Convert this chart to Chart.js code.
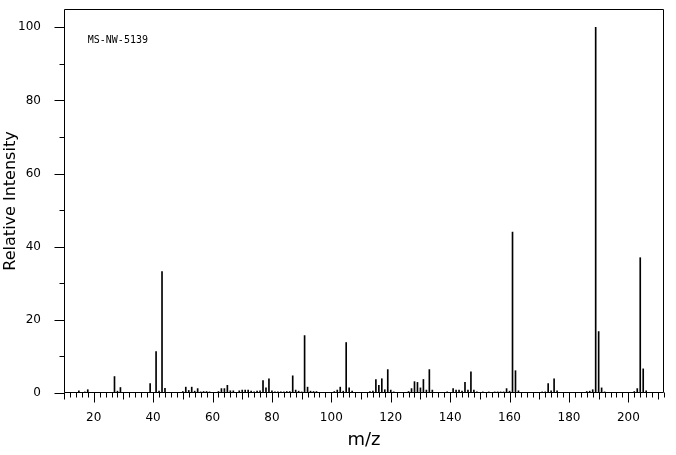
<!DOCTYPE html>
<html>
<head>
<meta charset="utf-8">
<script src="https://cdn.jsdelivr.net/npm/chart.js@4.4.1/dist/chart.umd.min.js"></script>
<style>
  html, body { margin: 0; padding: 0; background: #ffffff; }
  #wrap { width: 676px; height: 455px; }
</style>
</head>
<body>
<div id="wrap"><canvas id="c" width="676" height="455"></canvas></div>
<script>
// m/z values (categories along the x axis)
const mzValues = [15,17,18,27,28,29,39,41,42,43,44,50,51,52,53,54,55,56,57,58,59,62,63,64,65,66,67,69,70,71,72,73,74,75,76,77,78,79,80,81,82,83,84,85,86,87,88,89,90,91,92,93,94,95,101,102,103,104,105,106,107,113,114,115,116,117,118,119,120,121,126,127,128,129,130,131,132,133,134,139,141,142,143,144,145,146,147,148,149,151,153,155,156,157,158,159,160,161,162,163,171,172,173,174,175,176,186,187,188,189,190,191,192,202,203,204,205,206];
// relative intensities (series values)
const intensities = [0.6,0.3,0.9,4.5,0.5,1.5,2.6,11.3,0.5,33.2,1.3,0.4,1.6,0.7,1.6,0.5,1.2,0.3,0.4,0.4,0.3,0.4,1.2,1.2,2.1,0.6,0.6,0.6,0.8,0.8,0.8,0.5,0.3,0.5,0.6,3.4,1.4,3.9,0.6,0.3,0.3,0.3,0.3,0.4,0.4,4.7,0.8,0.5,0.3,15.7,1.6,0.5,0.4,0.4,0.4,0.8,1.6,0.5,13.8,1.4,0.5,0.4,0.5,3.7,2.1,3.9,0.9,6.4,0.8,0.3,0.4,1.2,3.1,2.9,1.4,3.7,0.8,6.4,0.8,0.3,1.2,0.8,0.8,0.5,2.9,0.8,5.8,0.8,0.3,0.3,0.3,0.3,0.3,0.3,0.3,1.2,0.5,44.0,6.1,0.6,0.3,0.3,2.6,0.6,3.9,0.6,0.4,0.5,0.9,100,16.8,1.4,0.3,0.4,1.2,37.0,6.6,0.6];
// tick labels
const xTickLabels = [20,40,60,80,100,120,140,160,180,200];
const yTickLabels = [0,20,40,60,80,100];
const sampleLabel = 'MS-NW-5139';
const xTitle = 'm/z';
const yTitle = 'Relative Intensity';

const X_MIN = 10, X_MAX = 212, Y_MIN = 0, Y_MAX = 105;

const points = mzValues.map((m, i) => ({ x: m, y: intensities[i] }));

const decorPlugin = {
  id: 'decor',
  afterDraw(chart) {
    const ctx = chart.ctx;
    const a = chart.chartArea;
    const xs = chart.scales.x, ys = chart.scales.y;
    ctx.save();
    ctx.strokeStyle = '#000';
    ctx.lineWidth = 1;
    // frame
    const L = Math.round(a.left) + 0.5, R = Math.round(a.right) - 0.5;
    const T = Math.round(a.top) + 0.5, B = Math.round(a.bottom) - 0.5;
    ctx.beginPath();
    ctx.rect(L, T, R - L, B - T);
    ctx.stroke();
    // x tick marks
    ctx.beginPath();
    for (let v = X_MIN; v <= X_MAX; v += 2) {
      const px = Math.round(xs.getPixelForValue(v)) + 0.5;
      const len = (v % 20 === 0) ? 10 : (v % 10 === 0 ? 7 : 5);
      ctx.moveTo(px, B);
      ctx.lineTo(px, B + len);
    }
    // y tick marks
    for (let v = 0; v <= 100; v += 10) {
      const py = Math.round(ys.getPixelForValue(v)) + 0.5;
      const len = (v % 20 === 0) ? 10 : 5;
      ctx.moveTo(L, py);
      ctx.lineTo(L - len, py);
    }
    ctx.stroke();
    // sample label
    ctx.fillStyle = '#000';
    ctx.font = '10px "DejaVu Sans Mono"';
    ctx.textBaseline = 'middle';
    ctx.textAlign = 'left';
    ctx.fillText(sampleLabel, xs.getPixelForValue(18), ys.getPixelForValue(96.5));
    ctx.restore();
  }
};

new Chart(document.getElementById('c'), {
  type: 'bar',
  data: {
    datasets: [{
      data: points,
      backgroundColor: '#000000',
      borderWidth: 0,
      barThickness: 1,
      grouped: false
    }]
  },
  plugins: [decorPlugin],
  options: {
    responsive: false,
    animation: false,
    devicePixelRatio: 1,
    layout: { padding: { top: 9, right: 12, left: 0, bottom: 0 } },
    plugins: { legend: { display: false }, tooltip: { enabled: false } },
    scales: {
      x: {
        type: 'linear',
        min: X_MIN, max: X_MAX,
        offset: false,
        grid: { display: false },
        border: { display: false },
        afterBuildTicks: (s) => { s.ticks = xTickLabels.map(v => ({ value: v })); },
        afterFit: (s) => { s.height = 62; s.paddingLeft = 0; s.paddingRight = 0; },
        ticks: {
          color: '#000', padding: 10, maxRotation: 0, autoSkip: false,
          font: { family: 'DejaVu Sans', size: 12 }
        },
        title: {
          display: true, text: xTitle, color: '#000',
          font: { family: 'DejaVu Sans', size: 18 },
          padding: { top: 0, bottom: 4 }
        }
      },
      y: {
        min: Y_MIN, max: Y_MAX,
        grid: { display: false },
        border: { display: false },
        afterBuildTicks: (s) => { s.ticks = yTickLabels.map(v => ({ value: v })); },
        afterFit: (s) => { s.width = 64; s.paddingTop = 0; s.paddingBottom = 0; },
        ticks: {
          color: '#000', padding: 15, autoSkip: false,
          font: { family: 'DejaVu Sans', size: 12 }
        },
        title: {
          display: true, text: yTitle, color: '#000',
          font: { family: 'DejaVu Sans', size: 16 },
          padding: { top: 1, bottom: 0 }
        }
      }
    }
  }
});
</script>
</body>
</html>
